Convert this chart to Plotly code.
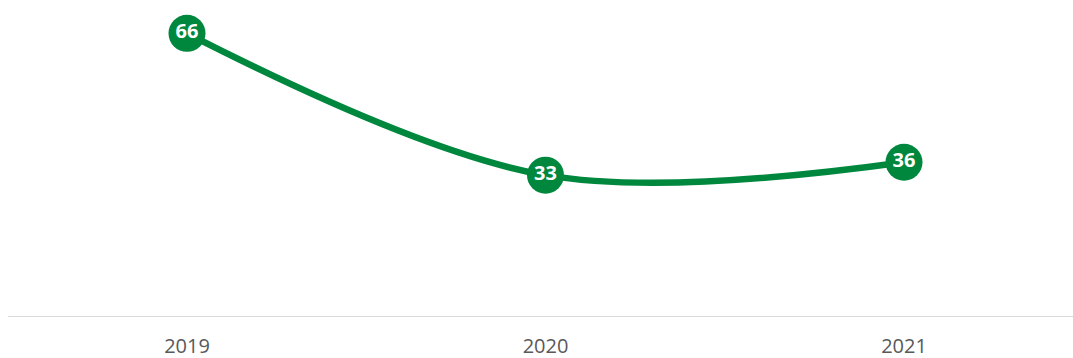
import plotly.graph_objects as go

years = ["2019", "2020", "2021"]
values = [66, 33, 36]

GREEN = "#00873E"

fig = go.Figure()
fig.add_trace(go.Scatter(
    x=years,
    y=values,
    mode="lines+markers+text",
    line=dict(color=GREEN, width=6.5, shape="spline", smoothing=1),
    marker=dict(size=37, color=GREEN, line=dict(width=0)),
    text=[str(v) for v in values],
    textposition="middle center",
    textfont=dict(family="Open Sans", size=20, color="white", weight="bold"),
    cliponaxis=False,
    hoverinfo="skip",
))

# baseline along the category axis
fig.add_shape(type="line", xref="paper", yref="y",
              x0=0.0075, x1=1.0, y0=0, y1=0,
              line=dict(color="#d9d9d9", width=2))

fig.update_layout(
    width=1073, height=358,
    margin=dict(l=0, r=0, t=0, b=41),
    paper_bgcolor="white", plot_bgcolor="white",
    showlegend=False,
    xaxis=dict(
        type="category",
        range=[-0.5216, 2.4714],
        automargin=False,
        showgrid=False, zeroline=False, showline=False,
        ticks="", ticklabelstandoff=15,
        tickfont=dict(family="Open Sans", size=20, color="#595959"),
    ),
    yaxis=dict(
        range=[0, 73.75],
        automargin=False,
        showgrid=False, zeroline=False, showline=False,
        showticklabels=False, ticks="",
    ),
)

fig.write_html("out.html")
